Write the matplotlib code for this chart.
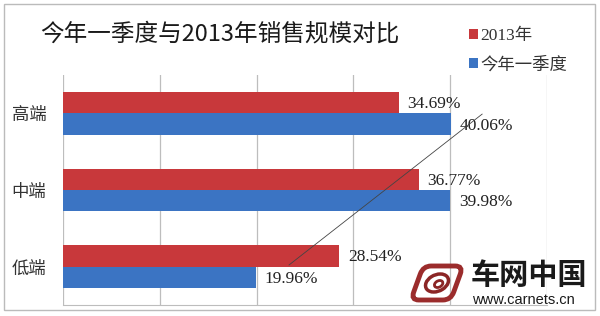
import numpy as np
import matplotlib
matplotlib.use("Agg")
import matplotlib.pyplot as plt
from matplotlib.patches import Rectangle, Ellipse, FancyBboxPatch
from matplotlib.transforms import Affine2D

plt.rcParams['font.family'] = ['Noto Sans CJK SC', 'DejaVu Sans']

# data
categories = ['高端', '中端', '低端']
series_names = ['2013年', '今年一季度']
vals_2013 = [34.69, 36.77, 28.54]
vals_q1 = [40.06, 39.98, 19.96]
colors = ['#C8383B', '#3B74C3']

fig = plt.figure(figsize=(6, 3.16), dpi=100)
ax = fig.add_axes([63 / 600, 11 / 316, 484 / 600, 230 / 316])

y = np.arange(len(categories))
h = 0.28
serif = ['Liberation Serif', 'Noto Sans CJK SC']

for i, (vals, name) in enumerate(zip([vals_2013, vals_q1], series_names)):
    pos = y - h / 2 if i == 0 else y + h / 2
    ax.barh(pos, vals, height=h, color=colors[i], label=name, zorder=3)
    for p, v in zip(pos, vals):
        ax.text(v + 0.9, p + 0.02, f'{v:.2f}%', va='center', ha='left',
                fontsize=12.5, family=serif, color='#222222', zorder=4)

ax.set_xlim(0, 50)
ax.set_ylim(2.5, -0.5)
ax.set_xticks(np.arange(0, 51, 10))
ax.set_xticklabels([])
ax.set_yticks(y)
ax.set_yticklabels(categories, fontsize=12.5, color='#333333')
ax.tick_params(axis='both', length=0)
ax.tick_params(axis='y', pad=12)
ax.grid(axis='x', color='#BDBDBD', linewidth=0.9, zorder=0)
for s in ['top', 'right', 'left']:
    ax.spines[s].set_visible(False)
ax.spines['bottom'].set_color('#BDBDBD')

# stray diagonal line in the original
ax.plot([0.866, 0.467], [0.83, 0.174], transform=ax.transAxes,
        color='#444444', linewidth=0.6, zorder=5)

# title
fig.text(40 / 600, 1 - 34 / 316, '今年一季度与2013年销售规模对比',
         fontsize=17, color='#1a1a1a', va='center', ha='left')

# legend
leg = ax.legend(loc='upper left', bbox_to_anchor=(462 / 600, 1 - 21 / 316),
                bbox_transform=fig.transFigure, frameon=False,
                prop={'family': serif, 'size': 12.5},
                handlelength=0.5, handleheight=0.5, handletextpad=0.15,
                labelspacing=0.75, borderaxespad=0)
for t in leg.get_texts():
    t.set_color('#333333')

# watermark
fig.text(471 / 600, 1 - 275 / 316, '车网中国', fontsize=21, fontweight='bold',
         color='#1a1a1a', va='center', ha='left')
fig.text(472 / 600, 1 - 300 / 316, 'www.carnets.cn', fontsize=10.5,
         family='Liberation Sans', color='#1a1a1a', va='center', ha='left')
logo_tr = Affine2D().skew_deg(20, 0).translate(437, 316 - 283)
logo_parts = [
    FancyBboxPatch((-20, -17), 40, 34, boxstyle='round,pad=0,rounding_size=8',
                   fill=False, edgecolor='#9B2C2C', linewidth=3.5),
    Ellipse((0, 0), 22, 18, fill=False, edgecolor='#8B2525', linewidth=2.5),
    Ellipse((2, -1), 8, 7, fill=False, edgecolor='#8B2525', linewidth=2),
]
for p in logo_parts:
    p.set_transform(logo_tr)
    fig.add_artist(p)

# outer frame
frame = Rectangle((4 / 600, 1 - 310 / 316), 591 / 600, 306 / 316,
                  transform=fig.transFigure, fill=False, edgecolor='#BBBBBB',
                  linewidth=1)
fig.add_artist(frame)

fig.savefig('out.png', dpi=100)
